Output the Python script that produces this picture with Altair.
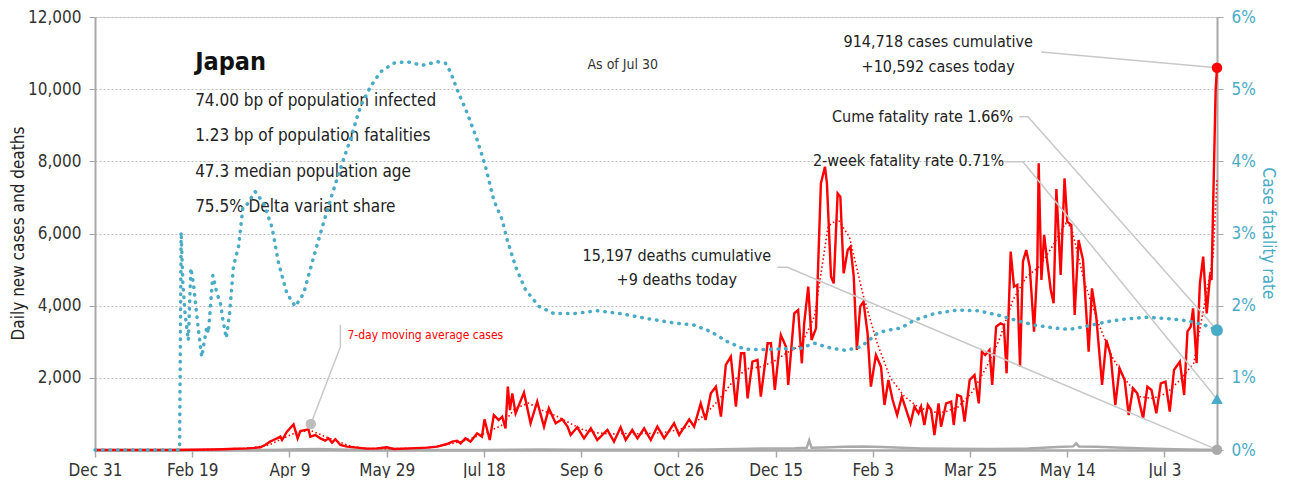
import json
import altair as alt
import pandas as pd

FONT = "Liberation Sans Narrow, DejaVu Sans Condensed, Roboto, sans-serif"
RED = "#ff0000"
BLUE = "#4aabc6"
GRAY = "#aaaaaa"
LEAD = "#c8c8c8"

# x values are days since Dec 31, 2019
tick_days = [0, 50, 100, 150, 200, 250, 300, 350, 400, 450, 500, 550]
tick_labels = ["Dec 31", "Feb 19", "Apr 9", "May 29", "Jul 18", "Sep 6",
               "Oct 26", "Dec 15", "Feb 3", "Mar 25", "May 14", "Jul 3"]
y_ticks = [2000, 4000, 6000, 8000, 10000, 12000]
y_tick_labels = ["2,000", "4,000", "6,000", "8,000", "10,000", "12,000"]
r_ticks = [0, 1, 2, 3, 4, 5, 6]
r_tick_labels = ["0%", "1%", "2%", "3%", "4%", "5%", "6%"]

case_days = [0, 20, 40, 50, 60, 66, 72, 78, 82, 85, 87.5, 90, 91.8, 93.6, 95.3, 96.2, 98.7,
             102.1, 104.2, 105.6, 109.8, 110.7, 113.3, 115.9, 118.4, 120.1, 121.9, 123.6,
             126.2, 129.6, 134.7, 139.8, 145, 150, 153.7, 162, 170.8, 176, 181, 183.7, 186.3,
             188, 190.5, 193.1, 196.5, 199, 200.3, 203, 205.1, 207.6, 209.4, 211.1, 212.3,
             213.4, 214.6, 216.3, 220.6, 224, 227.4, 230.9, 233.4, 236.9, 240.3, 243, 244.6,
             248, 251.5, 255, 258.3, 263.5, 266.9, 270.3, 272.9, 276.3, 279, 282.4, 285.8,
             289.2, 292.7, 297.8, 300.4, 305.6, 308.1,
             311.5, 314, 316.7, 319.3, 321.9, 324.4, 327, 329.6, 332.2, 333.9, 335.6, 338.1,
             340.7, 342.4, 345.9, 347.6, 349.6, 352.7, 355.3, 356.5, 359.6, 361.6, 363.5,
             364.7, 366.8, 368.5, 370.8, 373.3, 375.4, 376.4, 378.5, 379.9, 381.9, 383.3,
             385, 387.1, 388.5, 390.2, 391.8, 393.5, 395.2, 397.3, 399, 401.6, 404.2,
             406, 408, 410.2, 412.5, 414.9, 416.6, 419.4, 421.4, 423.5, 424.8, 426.5, 428.3,
             430, 431.7, 433.8, 435.1, 437.7, 440.3, 441.6, 443.4, 445.4, 447.2, 449.8, 452.3,
             454.5, 456.1, 457.8, 460, 461.4, 463.4, 465.7, 467.4, 468.8, 470.9, 472.6, 474.3,
             475.7, 477.2, 478.9, 480.7, 482.9, 484.6, 485.3, 486.7, 488.1, 489.8,
             491.5, 493, 494.4, 496.6, 498.6, 500, 502.1, 503.8, 505.8, 508.1, 511, 512.7,
             514.9, 517.9, 520.1, 522.3, 524.7, 526.9, 529.5, 531.6, 533.8, 536, 539, 541.2,
             543.3, 545.8, 548.1, 550.5, 552.7, 554.9, 557.9, 560.1, 561.8, 563.5, 564.7,
             566.5, 568.2, 569.9, 571.7, 573.4, 574.2, 576.3, 577]
case_vals = [0, 0, 1, 5, 12, 20, 35, 45, 60, 75, 139, 231, 277, 323, 370, 277, 508,
             711, 323, 527, 573, 370, 416, 323, 258, 323, 203, 300,
             139, 92, 65, 37, 46, 75, 28, 46, 65, 92, 166, 231, 258,
             185, 323, 231, 462, 370, 850, 277, 970, 831, 924, 600, 1755,
             1108, 1570, 1016, 1589, 739, 1340, 647, 1154, 739, 850, 650, 416,
             628, 323, 600, 277, 554, 231, 628, 277, 554, 323, 600, 277,
             647, 323, 739, 416, 850, 647,
             1293, 831, 1570, 1755, 924, 2356, 2587, 1200, 2680, 2680, 1432, 2449,
             2495, 1478, 2957, 2957, 1663, 3187, 2865, 1801, 3789, 3880, 2403,
             3511, 4526, 3049, 3372, 7390, 7852, 7390, 4803, 4618, 7113, 7021,
             4896, 5543, 5636, 4803, 2771, 3972, 4111, 3234, 1755, 2633, 2310,
             1247, 1940, 1386, 970, 1478, 1200, 739, 1200, 1016, 1200, 693, 1247,
             1108, 416, 1293, 647, 1293, 1340, 693, 1524, 1478, 785, 1940, 2079,
             1293, 2726, 2633, 2771, 1801, 3418, 3511, 3465, 2125, 5497, 4526, 4572,
             2310, 5220, 5543, 5081, 3280, 5081, 7945, 4711, 5959, 5174,
             4434, 4065, 7230, 4850, 7529, 6329, 6236, 3742, 5820, 5266, 2725, 4480,
             3696, 1802, 3049, 2633, 1247, 2264, 1940, 970, 1710, 1570, 877, 1755,
             1663, 1016, 1848, 1894, 1062, 2218, 2449, 1524, 3280, 3418, 3926,
             2403, 4619, 5359, 3788, 4804, 4711, 9977, 10592]

ma_days = [0, 60, 70, 80, 90, 97, 104, 111, 118, 125, 132, 139, 146, 153, 160, 167, 174,
           181, 188, 195, 202, 209, 216, 223, 230, 237, 244, 251, 258, 265, 272, 279, 286,
           293, 300, 307, 314, 321, 328, 335, 342, 349, 356, 363, 370, 377, 382, 388, 395,
           402, 409, 416, 423, 430, 437, 444, 451, 458, 465, 472, 479, 486, 493, 499, 502,
           509, 516, 523, 530, 537, 544, 551, 558, 565, 570, 575, 577]
ma_vals = [0, 10, 30, 50, 150, 330, 500, 540, 380, 230, 100, 45, 38, 40, 45, 55, 80,
           150, 230, 350, 500, 680, 1150, 1300, 1100, 950, 750, 560, 480, 440, 460, 450, 460,
           490, 560, 680, 1000, 1400, 1900, 2250, 2300, 2450, 2700, 2900, 3700, 6200, 6400,
           5900, 4300, 3000, 2000, 1500, 1200, 1050, 1050, 1200, 1600, 2250, 3050, 4150,
           4800, 5100, 5700, 6280, 6190, 4620, 3510, 2590, 1940, 1480, 1430, 1570, 1940,
           2400, 3880, 5360, 7480]

death_days = [0, 60, 80, 95, 105, 115, 125, 135, 150, 180, 200, 215, 230, 245, 260, 280,
              300, 315, 330, 345, 360, 366, 367.3, 368.5, 375, 385, 395, 405, 415, 425,
              440, 460, 480, 495, 503, 504.6, 506, 515, 525, 540, 555, 570, 577]
death_vals = [0, 0, 2, 8, 20, 25, 15, 5, 2, 1, 2, 8, 12, 10, 8, 6,
              5, 15, 30, 45, 50, 60, 270, 60, 70, 90, 100, 80, 60, 45,
              35, 25, 40, 80, 100, 185, 100, 90, 70, 40, 20, 10, 9]

cfr_days = [0, 43.5, 44.3, 45.2, 46.3, 48.0, 49.3, 50.6, 53.2, 54.9, 57.5, 58.3, 60.6,
            62.7, 64.4, 65.8, 67.5, 69.2, 71.2, 73.8, 76.1, 78.1, 82.4, 86.7, 91.0, 94.4,
            98.7, 103.0, 107.3, 111.6, 115.9, 121.0, 125.3, 131.3, 136.5, 141.6, 146.8,
            153.6, 160.5, 168.2, 176.0, 180.2, 182.8, 186.3, 191.4, 196.5, 200.8, 205.1,
            209.4, 212.0, 216.3, 221.4, 228.3, 236.0, 246.3, 258.3, 270.3, 284.1, 297.8,
            308.1, 316.7, 325.3, 333.8, 342.4, 352.7, 363.0, 369.9, 378.5, 386.2, 393.9,
            402.5, 407.7, 414.5, 421.4, 431.7, 443.7, 454.0, 464.3, 474.6, 483.2, 493.5,
            501.2, 510.7, 520.9, 531.2, 541.6, 551.9, 562.1, 570.7, 577]
cfr_vals = [0, 0, 3.02, 2.31, 1.89, 1.52, 2.52, 2.31, 1.66, 1.29, 1.71, 1.62, 2.42,
            2.17, 2.05, 1.80, 1.55, 1.89, 2.54, 2.82, 3.37, 3.40, 3.58, 3.42, 3.09, 2.59,
            2.17, 1.99, 2.17, 2.59, 3.00, 3.46, 3.83, 4.30, 4.76, 5.03, 5.24,
            5.36, 5.38, 5.33, 5.38, 5.36, 5.24, 4.99, 4.67, 4.30, 3.93, 3.46,
            3.19, 2.91, 2.54, 2.22, 1.99, 1.89, 1.89, 1.93, 1.89, 1.82, 1.76,
            1.73, 1.64, 1.50, 1.40, 1.39, 1.40, 1.41, 1.48, 1.41, 1.38, 1.43,
            1.62, 1.66, 1.69, 1.80, 1.89, 1.94, 1.93, 1.87, 1.79, 1.73, 1.69,
            1.67, 1.72, 1.78, 1.82, 1.84, 1.82, 1.79, 1.73, 1.66]

last_day = 577
today_cases = 10592
today_deaths = 9
cume_cfr = 1.66
two_week_cfr = 0.71

# leader lines (data units: day, cases)
lead_grp = ["c", "c", "f", "f", "f", "w", "w", "w", "d", "d", "d", "m", "m", "m"]
lead_day = [486.6, 577, 475.3, 479.8, 577, 468.3, 477.2, 577, 350.9, 356.1, 577, 111, 126.2, 126.2]
lead_val = [11031, 10592, 9238, 9238, 3326, 7990, 7990, 1414, 5064, 5064, 9, 720, 2864, 3465]

info_lines = ["74.00 bp of population infected", "1.23 bp of population fatalities",
              "47.3 median population age", "75.5% Delta variant share"]
info_vals = [9673, 8703, 7705, 6735]

cases_df = pd.DataFrame({"day": case_days, "v": case_vals})
ma_df = pd.DataFrame({"day": ma_days, "v": ma_vals})
death_df = pd.DataFrame({"day": death_days, "v": death_vals})
cfr_df = pd.DataFrame({"day": cfr_days, "cfr": cfr_vals})
lead_df = pd.DataFrame({"g": lead_grp, "day": lead_day, "v": lead_val})


def lookup_expr(values, labels):
    return "{" + ",".join(f"'{v}': '{l}'" for v, l in zip(values, labels)) + "}[datum.value + '']"


xs = alt.Scale(domain=[0, last_day], nice=False, zero=False)
ys = alt.Scale(domain=[0, 12000], nice=False)

x_axis = alt.Axis(values=tick_days, labelExpr=lookup_expr(tick_days, tick_labels),
                  grid=False, title=None, labelFlush=False,
                  domainColor="#a8a8a8", domainWidth=2.5, tickColor="#a8a8a8",
                  tickWidth=1.5, tickSize=7, labelPadding=5, labelFontSize=17,
                  labelColor="#333333", labelFont=FONT)
y_axis = alt.Axis(values=y_ticks, labelExpr=lookup_expr(y_ticks, y_tick_labels),
                  title="Daily new cases and deaths", grid=True, gridColor="#bdbdbd",
                  gridDash=[2, 2], gridWidth=1, domainColor="#a8a8a8", domainWidth=2,
                  tickColor="#a8a8a8", tickSize=6, labelPadding=8, labelFontSize=17,
                  labelColor="#333333", labelFont=FONT, titleFont=FONT, titleFontSize=17,
                  titleFontWeight="normal", titleColor="#222222", titleX=-77, titleY=216,
                  titleAngle=-90, titleBaseline="middle", titleAlign="center")

X = alt.X("day:Q", scale=xs, axis=x_axis)
Y = alt.Y("v:Q", scale=ys, axis=y_axis)

base_deaths = alt.Chart(death_df).mark_line(color=GRAY, strokeWidth=2.5).encode(x=X, y=Y)
ma_line = alt.Chart(ma_df).mark_line(color=RED, strokeWidth=1.6, strokeDash=[1.5, 2.5]).encode(
    x=X, y=Y)
case_line = alt.Chart(cases_df).mark_line(color=RED, strokeWidth=2.4).encode(x=X, y=Y)
leads = alt.Chart(lead_df).mark_line(color=LEAD, strokeWidth=1.5).encode(
    x=X, y=Y, detail="g:N", order=alt.Order("day:Q"))

pts_df = pd.DataFrame({"day": [last_day, last_day, 111], "v": [today_cases, today_deaths, 720],
                       "k": ["cases", "deaths", "ma"]})
pts = alt.Chart(pts_df).mark_point(filled=True, opacity=1, size=110).encode(
    x=X, y=Y,
    color=alt.Color("k:N", scale=alt.Scale(domain=["cases", "deaths", "ma"],
                                           range=[RED, GRAY, "#bdbdbd"]), legend=None))


def txt(df, **kw):
    return alt.Chart(df).mark_text(font=FONT, **kw).encode(x=X, y=Y, text="t:N")


t_title = txt(pd.DataFrame({"day": [51.5], "v": [10754], "t": ["Japan"]}),
              align="left", fontSize=25, fontWeight="bold", color="#111111")
t_info = txt(pd.DataFrame({"day": [51.5] * 4, "v": info_vals, "t": info_lines}),
             align="left", fontSize=17, color="#222222")
t_asof = txt(pd.DataFrame({"day": [271.4], "v": [10670], "t": ["As of Jul 30"]}),
             align="center", fontSize=14, color="#333333")
t_center = txt(pd.DataFrame({"day": [433.6, 433.6, 299.2, 299.2],
                             "v": [11308, 10615, 5377, 4712],
                             "t": ["914,718 cases cumulative", "+10,592 cases today",
                                   "15,197 deaths cumulative", "+9 deaths today"]}),
               align="center", fontSize=16, color="#222222")
t_right = txt(pd.DataFrame({"day": [472.2, 467.6], "v": [9229, 8010],
                            "t": ["Cume fatality rate 1.66%", "2-week fatality rate 0.71%"]}),
              align="right", fontSize=16, color="#222222")
t_ma = txt(pd.DataFrame({"day": [129.8], "v": [3187], "t": ["7-day moving average cases"]}),
           align="left", fontSize=12, color=RED)

left = alt.layer(base_deaths, ma_line, case_line, leads, pts,
                 t_title, t_info, t_asof, t_center, t_right, t_ma)

cs = alt.Scale(domain=[0, 6], nice=False)
r_axis = alt.Axis(orient="right", values=r_ticks, labelExpr=lookup_expr(r_ticks, r_tick_labels),
                  grid=False, title="Case fatality rate", domainColor="#a8a8a8", domainWidth=2,
                  tickColor="#a8a8a8", tickSize=6, labelPadding=8, labelFontSize=17,
                  labelColor=BLUE, labelFont=FONT, titleFont=FONT, titleFontSize=17,
                  titleFontWeight="normal", titleColor=BLUE, titleAngle=90, titleX=50,
                  titleY=216, titleBaseline="middle", titleAlign="center")
YR = alt.Y("cfr:Q", scale=cs, axis=r_axis)
cfr_line = alt.Chart(cfr_df).mark_line(color=BLUE, strokeWidth=3.5, strokeDash=[0.5, 7],
                                       strokeCap="round").encode(x=X, y=YR)
cfr_pts_df = pd.DataFrame({"day": [last_day, last_day], "cfr": [cume_cfr, two_week_cfr],
                           "s": ["circle", "triangle-up"]})
cfr_pts = alt.Chart(cfr_pts_df).mark_point(filled=True, opacity=1, size=140, color=BLUE).encode(
    x=X, y=YR,
    shape=alt.Shape("s:N", scale=alt.Scale(domain=["circle", "triangle-up"],
                                           range=["circle", "triangle-up"]), legend=None))
right = alt.layer(cfr_line, cfr_pts)

chart = alt.layer(left, right).resolve_scale(y="independent").properties(
    width=1122, height=433,
    padding={"left": 87, "top": 9, "right": 66, "bottom": 28},
    autosize=alt.AutoSizeParams(type="none"),
).configure_view(stroke=None).configure(font=FONT, background="white")

chart.save("out.html", embed_options={"renderer": "svg", "actions": False})
